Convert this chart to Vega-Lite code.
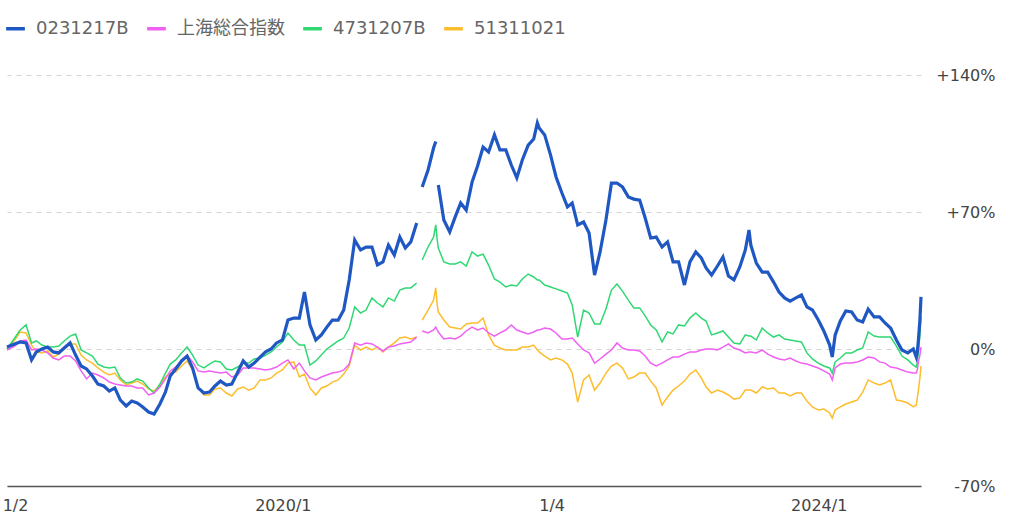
{
"$schema": "https://vega.github.io/schema/vega-lite/v6.json",
"width": 914, "height": 411,
"autosize": {"type": "none"},
"padding": {"left": 7, "top": 75, "right": 103, "bottom": 41},
"background": "white",
"config": {"view": {"stroke": null}, "font": "DejaVu Sans, Noto Sans CJK JP, sans-serif"},
"data": {"values": [
{"d":"2017-12-11","0231217B":1.0,"上海総合指数":-0.5,"4731207B":0,"51311021":0},
{"d":"2018-01-01","0231217B":2.6,"上海総合指数":1.5,"4731207B":5.6,"51311021":4.6},
{"d":"2018-01-16","0231217B":3.6,"上海総合指数":4.1,"4731207B":9.7,"51311021":8.7},
{"d":"2018-02-01","0231217B":3.1,"上海総合指数":4.6,"4731207B":12.3,"51311021":8.2},
{"d":"2018-02-16","0231217B":-5.6,"上海総合指数":-0.5,"4731207B":3.1,"51311021":2.0},
{"d":"2018-03-01","0231217B":-1.5,"上海総合指数":0,"4731207B":4.1,"51311021":-1.5},
{"d":"2018-03-16","0231217B":0,"上海総合指数":-0.5,"4731207B":2.0,"51311021":-2.0},
{"d":"2018-04-01","0231217B":1.0,"上海総合指数":-2.0,"4731207B":1.0,"51311021":-1.0},
{"d":"2018-04-16","0231217B":-1.5,"上海総合指数":-4.6,"4731207B":1.0,"51311021":-4.1},
{"d":"2018-05-01","0231217B":-2.0,"上海総合指数":-5.6,"4731207B":1.5,"51311021":-2.6},
{"d":"2018-05-16","0231217B":0.5,"上海総合指数":-3.6,"4731207B":4.1,"51311021":0.5},
{"d":"2018-06-01","0231217B":3.1,"上海総合指数":-3.6,"4731207B":6.6,"51311021":2.6},
{"d":"2018-06-16","0231217B":-3.1,"上海総合指数":-6.1,"4731207B":7.7,"51311021":2.6},
{"d":"2018-07-01","0231217B":-8.7,"上海総合指数":-11.2,"4731207B":-0.5,"51311021":-3.1},
{"d":"2018-07-16","0231217B":-10.2,"上海総合指数":-15.3,"4731207B":-2.0,"51311021":-5.6},
{"d":"2018-08-01","0231217B":-13.8,"上海総合指数":-12.3,"4731207B":-3.6,"51311021":-7.2},
{"d":"2018-08-16","0231217B":-17.9,"上海総合指数":-13.3,"4731207B":-7.7,"51311021":-9.7},
{"d":"2018-09-01","0231217B":-18.9,"上海総合指数":-14.8,"4731207B":-9.2,"51311021":-11.8},
{"d":"2018-09-16","0231217B":-21.5,"上海総合指数":-16.9,"4731207B":-9.7,"51311021":-13.3},
{"d":"2018-10-01","0231217B":-19.9,"上海総合指数":-17.9,"4731207B":-9.2,"51311021":-12.3},
{"d":"2018-10-16","0231217B":-26.1,"上海総合指数":-18.4,"4731207B":-14.8,"51311021":-15.8},
{"d":"2018-11-01","0231217B":-29.1,"上海総合指数":-18.9,"4731207B":-17.4,"51311021":-18.4},
{"d":"2018-11-16","0231217B":-26.6,"上海総合指数":-18.9,"4731207B":-16.9,"51311021":-17.4},
{"d":"2018-12-01","0231217B":-27.6,"上海総合指数":-19.9,"4731207B":-15.3,"51311021":-16.4},
{"d":"2018-12-16","0231217B":-29.6,"上海総合指数":-19.9,"4731207B":-16.4,"51311021":-17.9},
{"d":"2019-01-01","0231217B":-32.2,"上海総合指数":-23.5,"4731207B":-19.9,"51311021":-20.4},
{"d":"2019-01-16","0231217B":-33.2,"上海総合指数":-22.5,"4731207B":-22.5,"51311021":-21.5},
{"d":"2019-02-01","0231217B":-28.1,"上海総合指数":-19.4,"4731207B":-17.9,"51311021":-18.4},
{"d":"2019-02-16","0231217B":-22.0,"上海総合指数":-15.3,"4731207B":-12.3,"51311021":-14.3},
{"d":"2019-03-01","0231217B":-13.8,"上海総合指数":-11.2,"4731207B":-7.7,"51311021":-12.3},
{"d":"2019-03-16","0231217B":-10.2,"上海総合指数":-9.2,"4731207B":-5.6,"51311021":-11.8},
{"d":"2019-04-01","0231217B":-6.1,"上海総合指数":-6.1,"4731207B":-2.0,"51311021":-8.7},
{"d":"2019-04-16","0231217B":-3.6,"上海総合指数":-3.1,"4731207B":1.0,"51311021":-6.1},
{"d":"2019-05-01","0231217B":-9.7,"上海総合指数":-6.6,"4731207B":-3.1,"51311021":-10.7},
{"d":"2019-05-16","0231217B":-19.9,"上海総合指数":-11.2,"4731207B":-8.2,"51311021":-19.9},
{"d":"2019-06-01","0231217B":-22.5,"上海総合指数":-11.8,"4731207B":-9.7,"51311021":-23.5},
{"d":"2019-06-16","0231217B":-22.0,"上海総合指数":-11.2,"4731207B":-7.7,"51311021":-23.5},
{"d":"2019-07-01","0231217B":-18.9,"上海総合指数":-11.8,"4731207B":-6.1,"51311021":-20.4},
{"d":"2019-07-16","0231217B":-16.4,"上海総合指数":-12.3,"4731207B":-6.6,"51311021":-19.9},
{"d":"2019-08-01","0231217B":-18.4,"上海総合指数":-11.8,"4731207B":-10.2,"51311021":-22.5},
{"d":"2019-08-16","0231217B":-17.9,"上海総合指数":-14.3,"4731207B":-10.7,"51311021":-24.0},
{"d":"2019-09-01","0231217B":-11.8,"上海総合指数":-13.3,"4731207B":-9.2,"51311021":-20.4},
{"d":"2019-09-16","0231217B":-6.1,"上海総合指数":-9.7,"4731207B":-7.2,"51311021":-19.4},
{"d":"2019-10-01","0231217B":-9.2,"上海総合指数":-9.7,"4731207B":-7.2,"51311021":-21.0},
{"d":"2019-10-16","0231217B":-7.2,"上海総合指数":-9.7,"4731207B":-5.1,"51311021":-19.9},
{"d":"2019-11-01","0231217B":-4.1,"上海総合指数":-10.2,"4731207B":-4.6,"51311021":-15.8},
{"d":"2019-11-16","0231217B":-1.5,"上海総合指数":-10.7,"4731207B":-3.1,"51311021":-15.8},
{"d":"2019-12-01","0231217B":0,"上海総合指数":-10.2,"4731207B":-1.5,"51311021":-14.8},
{"d":"2019-12-16","0231217B":3.1,"上海総合指数":-9.2,"4731207B":1.0,"51311021":-12.3},
{"d":"2020-01-01","0231217B":4.6,"上海総合指数":-7.2,"4731207B":3.6,"51311021":-10.7},
{"d":"2020-01-16","0231217B":14.8,"上海総合指数":-5.6,"4731207B":8.2,"51311021":-7.2},
{"d":"2020-02-01","0231217B":15.8,"上海総合指数":-10.2,"4731207B":4.6,"51311021":-6.6},
{"d":"2020-02-16","0231217B":15.8,"上海総合指数":-7.2,"4731207B":2.0,"51311021":-14.3},
{"d":"2020-03-01","0231217B":29.1,"上海総合指数":-11.2,"4731207B":2.0,"51311021":-12.8},
{"d":"2020-03-16","0231217B":12.3,"上海総合指数":-14.8,"4731207B":-8.2,"51311021":-19.9},
{"d":"2020-04-01","0231217B":4.6,"上海総合指数":-15.8,"4731207B":-6.1,"51311021":-23.5},
{"d":"2020-04-16","0231217B":7.2,"上海総合指数":-14.3,"4731207B":-3.1,"51311021":-19.9},
{"d":"2020-05-01","0231217B":11.2,"上海総合指数":-13.3,"4731207B":0,"51311021":-18.9},
{"d":"2020-05-16","0231217B":14.8,"上海総合指数":-12.3,"4731207B":2.0,"51311021":-16.9},
{"d":"2020-06-01","0231217B":14.8,"上海総合指数":-11.8,"4731207B":4.1,"51311021":-15.8},
{"d":"2020-06-16","0231217B":19.9,"上海総合指数":-10.7,"4731207B":5.6,"51311021":-12.8},
{"d":"2020-07-01","0231217B":35.3,"上海総合指数":-7.7,"4731207B":10.7,"51311021":-8.7},
{"d":"2020-07-16","0231217B":55.7,"上海総合指数":3.1,"4731207B":21.5,"51311021":2.0},
{"d":"2020-08-01","0231217B":50.6,"上海総合指数":2.0,"4731207B":18.4,"51311021":-0.5},
{"d":"2020-08-16","0231217B":52.1,"上海総合指数":3.1,"4731207B":19.9,"51311021":1.0},
{"d":"2020-09-01","0231217B":52.1,"上海総合指数":2.6,"4731207B":26.1,"51311021":-0.5},
{"d":"2020-09-16","0231217B":43.0,"上海総合指数":1.0,"4731207B":23.5,"51311021":1.0},
{"d":"2020-10-01","0231217B":44.5,"上海総合指数":-1.0,"4731207B":21.5,"51311021":-1.5},
{"d":"2020-10-16","0231217B":53.1,"上海総合指数":1.0,"4731207B":26.1,"51311021":1.0},
{"d":"2020-11-01","0231217B":48.0,"上海総合指数":1.5,"4731207B":24.5,"51311021":3.1},
{"d":"2020-11-16","0231217B":57.2,"上海総合指数":2.6,"4731207B":30.1,"51311021":5.6},
{"d":"2020-12-01","0231217B":51.6,"上海総合指数":3.1,"4731207B":31.2,"51311021":6.1},
{"d":"2020-12-16","0231217B":54.7,"上海総合指数":3.6,"4731207B":31.2,"51311021":5.1},
{"d":"2021-01-01","0231217B":64.4,"上海総合指数":6.1,"4731207B":33.7,"51311021":6.1},
{"d":"2021-01-08","0231217B":null,"上海総合指数":null,"4731207B":null,"51311021":null},
{"d":"2021-01-16","0231217B":82.8,"上海総合指数":9.2,"4731207B":45.5,"51311021":14.8},
{"d":"2021-02-01","0231217B":91.5,"上海総合指数":8.2,"4731207B":52.1,"51311021":19.9},
{"d":"2021-02-16","0231217B":102.7,"上海総合指数":9.7,"4731207B":57.2,"51311021":25.0},
{"d":"2021-02-22","0231217B":106.0,"上海総合指数":11.2,"4731207B":63.4,"51311021":31.2},
{"d":"2021-02-26","0231217B":null,"上海総合指数":9.7,"4731207B":55.7,"51311021":22.5},
{"d":"2021-03-01","0231217B":83.8,"上海総合指数":8.7,"4731207B":51.6,"51311021":18.9},
{"d":"2021-03-16","0231217B":65.9,"上海総合指数":5.1,"4731207B":44.5,"51311021":14.8},
{"d":"2021-04-01","0231217B":59.8,"上海総合指数":5.6,"4731207B":43.4,"51311021":11.2},
{"d":"2021-04-16","0231217B":67.5,"上海総合指数":5.1,"4731207B":43.4,"51311021":10.7},
{"d":"2021-05-01","0231217B":74.6,"上海総合指数":6.6,"4731207B":44.5,"51311021":10.2},
{"d":"2021-05-16","0231217B":71.0,"上海総合指数":9.2,"4731207B":42.4,"51311021":12.8},
{"d":"2021-06-01","0231217B":85.3,"上海総合指数":11.2,"4731207B":49.6,"51311021":13.3},
{"d":"2021-06-16","0231217B":93.5,"上海総合指数":9.7,"4731207B":47.5,"51311021":13.3},
{"d":"2021-07-01","0231217B":103.2,"上海総合指数":10.7,"4731207B":48.5,"51311021":15.8},
{"d":"2021-07-16","0231217B":100.7,"上海総合指数":8.2,"4731207B":42.9,"51311021":7.2},
{"d":"2021-08-01","0231217B":109.4,"上海総合指数":6.6,"4731207B":35.8,"51311021":2.0},
{"d":"2021-08-16","0231217B":101.7,"上海総合指数":8.2,"4731207B":34.2,"51311021":0.5},
{"d":"2021-09-01","0231217B":101.7,"上海総合指数":9.7,"4731207B":31.7,"51311021":-0.5},
{"d":"2021-09-16","0231217B":94.0,"上海総合指数":12.3,"4731207B":32.7,"51311021":-0.5},
{"d":"2021-10-01","0231217B":87.4,"上海総合指数":9.7,"4731207B":32.2,"51311021":-0.5},
{"d":"2021-10-16","0231217B":96.6,"上海総合指数":8.7,"4731207B":35.8,"51311021":1.0},
{"d":"2021-11-01","0231217B":104.2,"上海総合指数":7.7,"4731207B":38.3,"51311021":1.0},
{"d":"2021-11-16","0231217B":107.3,"上海総合指数":8.7,"4731207B":36.8,"51311021":2.0},
{"d":"2021-11-26","0231217B":115.5,"上海総合指数":9.7,"4731207B":35.3,"51311021":-0.5},
{"d":"2021-12-01","0231217B":112.9,"上海総合指数":9.7,"4731207B":35.3,"51311021":-1.5},
{"d":"2021-12-16","0231217B":109.4,"上海総合指数":10.7,"4731207B":32.7,"51311021":-3.6},
{"d":"2022-01-01","0231217B":99.1,"上海総合指数":10.2,"4731207B":31.7,"51311021":-5.6},
{"d":"2022-01-16","0231217B":87.9,"上海総合指数":8.2,"4731207B":30.7,"51311021":-4.6},
{"d":"2022-02-01","0231217B":79.7,"上海総合指数":5.1,"4731207B":29.6,"51311021":-5.6},
{"d":"2022-02-16","0231217B":72.6,"上海総合指数":5.1,"4731207B":28.6,"51311021":-7.7},
{"d":"2022-03-01","0231217B":74.6,"上海総合指数":5.6,"4731207B":22.5,"51311021":-12.3},
{"d":"2022-03-16","0231217B":63.4,"上海総合指数":2.6,"4731207B":6.1,"51311021":-27.1},
{"d":"2022-04-01","0231217B":64.9,"上海総合指数":-0.5,"4731207B":19.9,"51311021":-15.8},
{"d":"2022-04-16","0231217B":59.3,"上海総合指数":-2.0,"4731207B":18.4,"51311021":-13.3},
{"d":"2022-05-01","0231217B":37.8,"上海総合指数":-7.2,"4731207B":12.8,"51311021":-21.0},
{"d":"2022-05-16","0231217B":49.6,"上海総合指数":-5.1,"4731207B":12.8,"51311021":-17.4},
{"d":"2022-06-01","0231217B":65.9,"上海総合指数":-2.6,"4731207B":20.4,"51311021":-12.3},
{"d":"2022-06-16","0231217B":84.8,"上海総合指数":-0.5,"4731207B":30.1,"51311021":-8.7},
{"d":"2022-07-01","0231217B":84.8,"上海総合指数":3.1,"4731207B":33.2,"51311021":-7.2},
{"d":"2022-07-16","0231217B":82.8,"上海総合指数":0.5,"4731207B":29.6,"51311021":-9.7},
{"d":"2022-08-01","0231217B":77.7,"上海総合指数":-0.5,"4731207B":25.0,"51311021":-15.3},
{"d":"2022-08-16","0231217B":76.6,"上海総合指数":-0.5,"4731207B":21.0,"51311021":-14.3},
{"d":"2022-09-01","0231217B":76.1,"上海総合指数":-1.0,"4731207B":21.0,"51311021":-12.3},
{"d":"2022-09-16","0231217B":66.9,"上海総合指数":-3.6,"4731207B":16.9,"51311021":-12.3},
{"d":"2022-10-01","0231217B":56.7,"上海総合指数":-7.2,"4731207B":12.3,"51311021":-16.4},
{"d":"2022-10-16","0231217B":57.2,"上海総合指数":-8.7,"4731207B":9.7,"51311021":-19.9},
{"d":"2022-11-01","0231217B":52.1,"上海総合指数":-7.2,"4731207B":3.6,"51311021":-28.6},
{"d":"2022-11-16","0231217B":54.7,"上海総合指数":-5.6,"4731207B":8.7,"51311021":-24.5},
{"d":"2022-12-01","0231217B":44.5,"上海総合指数":-4.1,"4731207B":7.7,"51311021":-21.0},
{"d":"2022-12-16","0231217B":44.5,"上海総合指数":-4.1,"4731207B":12.3,"51311021":-18.9},
{"d":"2023-01-01","0231217B":32.7,"上海総合指数":-2.6,"4731207B":11.8,"51311021":-16.4},
{"d":"2023-01-16","0231217B":44.5,"上海総合指数":-1.5,"4731207B":15.8,"51311021":-12.8},
{"d":"2023-02-01","0231217B":49.6,"上海総合指数":-1.5,"4731207B":18.4,"51311021":-10.7},
{"d":"2023-02-16","0231217B":46.5,"上海総合指数":-0.5,"4731207B":15.8,"51311021":-14.8},
{"d":"2023-03-01","0231217B":41.4,"上海総合指数":0,"4731207B":14.3,"51311021":-19.4},
{"d":"2023-03-16","0231217B":37.8,"上海総合指数":0,"4731207B":7.2,"51311021":-22.5},
{"d":"2023-04-01","0231217B":42.4,"上海総合指数":-0.5,"4731207B":8.2,"51311021":-21.0},
{"d":"2023-04-16","0231217B":47.0,"上海総合指数":1.0,"4731207B":9.2,"51311021":-22.0},
{"d":"2023-05-01","0231217B":37.3,"上海総合指数":2.6,"4731207B":6.1,"51311021":-23.5},
{"d":"2023-05-16","0231217B":35.3,"上海総合指数":0.5,"4731207B":3.1,"51311021":-25.6},
{"d":"2023-06-01","0231217B":41.9,"上海総合指数":-0.5,"4731207B":2.6,"51311021":-25.0},
{"d":"2023-06-16","0231217B":50.6,"上海総合指数":-2.0,"4731207B":7.2,"51311021":-21.0},
{"d":"2023-06-26","0231217B":60.8,"上海総合指数":-1.5,"4731207B":6.6,"51311021":-21.0},
{"d":"2023-07-01","0231217B":53.1,"上海総合指数":-1.5,"4731207B":6.6,"51311021":-21.0},
{"d":"2023-07-16","0231217B":43.9,"上海総合指数":-2.0,"4731207B":4.6,"51311021":-22.5},
{"d":"2023-08-01","0231217B":39.3,"上海総合指数":-0.5,"4731207B":10.7,"51311021":-19.4},
{"d":"2023-08-16","0231217B":39.3,"上海総合指数":-2.6,"4731207B":8.2,"51311021":-20.4},
{"d":"2023-09-01","0231217B":34.2,"上海総合指数":-4.1,"4731207B":6.1,"51311021":-19.9},
{"d":"2023-09-16","0231217B":29.1,"上海総合指数":-5.1,"4731207B":7.2,"51311021":-22.5},
{"d":"2023-10-01","0231217B":26.1,"上海総合指数":-5.6,"4731207B":5.1,"51311021":-22.5},
{"d":"2023-10-16","0231217B":24.5,"上海総合指数":-4.6,"4731207B":4.6,"51311021":-24.0},
{"d":"2023-11-01","0231217B":26.1,"上海総合指数":-6.1,"4731207B":4.1,"51311021":-22.5},
{"d":"2023-11-16","0231217B":27.6,"上海総合指数":-7.2,"4731207B":3.6,"51311021":-22.5},
{"d":"2023-12-01","0231217B":21.5,"上海総合指数":-7.7,"4731207B":-2.0,"51311021":-26.6},
{"d":"2023-12-16","0231217B":19.9,"上海総合指数":-8.7,"4731207B":-5.1,"51311021":-29.6},
{"d":"2024-01-01","0231217B":14.8,"上海総合指数":-9.7,"4731207B":-7.2,"51311021":-31.2},
{"d":"2024-01-16","0231217B":9.2,"上海総合指数":-11.2,"4731207B":-8.7,"51311021":-30.7},
{"d":"2024-02-01","0231217B":2.0,"上海総合指数":-12.8,"4731207B":-9.7,"51311021":-32.7},
{"d":"2024-02-08","0231217B":-4.1,"上海総合指数":-15.8,"4731207B":-12.3,"51311021":-35.3},
{"d":"2024-02-16","0231217B":7.2,"上海総合指数":-9.7,"4731207B":-6.6,"51311021":-31.2},
{"d":"2024-03-01","0231217B":14.3,"上海総合指数":-7.7,"4731207B":-4.6,"51311021":-29.6},
{"d":"2024-03-16","0231217B":19.4,"上海総合指数":-7.2,"4731207B":-2.0,"51311021":-28.1},
{"d":"2024-04-01","0231217B":18.9,"上海総合指数":-7.2,"4731207B":-2.0,"51311021":-27.1},
{"d":"2024-04-16","0231217B":14.8,"上海総合指数":-6.6,"4731207B":-0.5,"51311021":-26.1},
{"d":"2024-05-01","0231217B":13.8,"上海総合指数":-5.6,"4731207B":0.5,"51311021":-22.0},
{"d":"2024-05-16","0231217B":20.4,"上海総合指数":-4.1,"4731207B":8.7,"51311021":-15.8},
{"d":"2024-06-01","0231217B":16.4,"上海総合指数":-4.6,"4731207B":6.6,"51311021":-17.4},
{"d":"2024-06-16","0231217B":16.4,"上海総合指数":-6.6,"4731207B":6.1,"51311021":-18.4},
{"d":"2024-07-01","0231217B":13.3,"上海総合指数":-7.2,"4731207B":6.1,"51311021":-17.4},
{"d":"2024-07-16","0231217B":10.7,"上海総合指数":-9.2,"4731207B":6.1,"51311021":-15.8},
{"d":"2024-08-01","0231217B":4.6,"上海総合指数":-9.7,"4731207B":1.5,"51311021":-26.1},
{"d":"2024-08-16","0231217B":-0.5,"上海総合指数":-10.7,"4731207B":-3.6,"51311021":-26.6},
{"d":"2024-09-01","0231217B":-2.0,"上海総合指数":-11.8,"4731207B":-5.6,"51311021":-27.6},
{"d":"2024-09-16","0231217B":0,"上海総合指数":-12.3,"4731207B":-8.2,"51311021":-29.6},
{"d":"2024-09-24","0231217B":-4.1,"上海総合指数":-12.3,"4731207B":-9.2,"51311021":-28.6},
{"d":"2024-09-27","0231217B":-1.5,"上海総合指数":-10.7,"4731207B":-6.6,"51311021":-25.0},
{"d":"2024-09-30","0231217B":4.6,"上海総合指数":-6.6,"4731207B":-1.5,"51311021":-21.0},
{"d":"2024-10-04","0231217B":14.8,"上海総合指数":-3.1,"4731207B":7.2,"51311021":-14.8},
{"d":"2024-10-07","0231217B":26.6,"上海総合指数":1.0,"4731207B":16.4,"51311021":-8.7}
]},
"transform": [{"fold": ["51311021", "4731207B", "上海総合指数", "0231217B"], "as": ["k", "v"]}],
"encoding": {
  "x": {"field": "d", "type": "temporal",
    "scale": {"domain": [{"year": 2017, "month": 12, "date": 11}, {"year": 2024, "month": 10, "date": 7}]},
    "axis": {"title": null, "grid": false, "ticks": false, "tickSize": 0, "domain": true, "domainColor": "#555", "domainWidth": 1.5,
      "values": [{"year": 2018, "month": 1, "date": 2}, {"year": 2020, "month": 1, "date": 2}, {"year": 2022, "month": 1, "date": 4}, {"year": 2024, "month": 1, "date": 2}],
      "labelExpr": "year(datum.value)==2018 ? '1/2' : (year(datum.value)==2022 ? '1/4' : year(datum.value) + '/1')",
      "labelFlush": true, "labelFontSize": 16, "labelColor": "#444", "labelPadding": 11}},
  "y": {"field": "v", "type": "quantitative",
    "scale": {"domain": [-70, 140], "nice": false, "zero": false},
    "axis": {"orient": "right", "title": null, "values": [-70, 0, 70, 140], "grid": true, "gridDash": [5, 5], "gridColor": "#d4d4d4",
      "domain": false, "ticks": false, "tickSize": 0, "labelAlign": "right", "labelPadding": 74, "labelFontSize": 16, "labelColor": "#444",
      "labelExpr": "datum.value > 0 ? '+' + datum.value + '%' : datum.value + '%'"}},
  "color": {"field": "k", "type": "nominal",
    "scale": {"domain": ["0231217B", "上海総合指数", "4731207B", "51311021"], "range": ["#1f57c3", "#f060f2", "#2fd873", "#fdbd2c"]},
    "legend": {"title": null, "orient": "none", "legendX": -3, "legendY": -58, "direction": "horizontal",
      "symbolType": "stroke", "symbolStrokeWidth": 3.5, "symbolSize": 350, "labelFontSize": 18, "labelColor": "#666",
      "columnPadding": 11, "labelOffset": 9}}
},
"layer": [
  {"transform": [{"filter": "datum.k != '0231217B'"}], "mark": {"type": "line", "strokeWidth": 1.5, "invalid": "break-paths-filter-domains"}},
  {"transform": [{"filter": "datum.k == '0231217B'"}], "mark": {"type": "line", "strokeWidth": 3.2, "invalid": "break-paths-filter-domains"}}
]
}
